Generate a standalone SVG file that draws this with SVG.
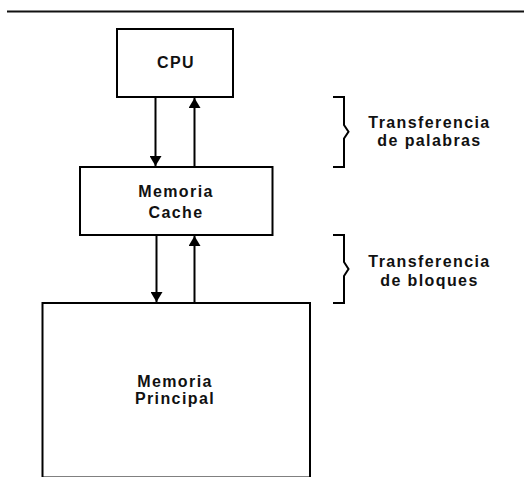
<svg xmlns="http://www.w3.org/2000/svg" width="524" height="477" viewBox="0 0 524 477">
<style>
.box{fill:#fff;stroke:#000;stroke-width:2}
.ln{fill:none;stroke:#000;stroke-width:2}
.t{font-family:"Liberation Sans",Arial,sans-serif;font-weight:bold;font-size:16px;letter-spacing:1.4px;fill:#111;text-anchor:middle}
</style>
<defs>
<marker id="ah" viewBox="0 0 10 12" refX="10" refY="6" markerWidth="10" markerHeight="12" markerUnits="userSpaceOnUse" orient="auto">
<path d="M0,0 L10,6 L0,12 Z" fill="#000"/>
</marker>
</defs>
<line x1="7" y1="11.5" x2="524" y2="11.5" stroke="#111" stroke-width="2"/>
<g id="cpu">
<rect class="box" x="117" y="29" width="116" height="68"/>
<text class="t" x="176" y="67.5">CPU</text>
</g>
<g id="cache">
<rect class="box" x="80" y="167" width="192.5" height="68"/>
<text class="t" x="176" y="197">Memoria</text>
<text class="t" x="176" y="217.5">Cache</text>
</g>
<g id="principal">
<rect class="box" x="42.5" y="303" width="267.5" height="174.5"/>
<text class="t" x="175" y="386.5">Memoria</text>
<text class="t" x="175" y="403.5">Principal</text>
</g>
<g id="connectors">
<line class="ln" x1="155.5" y1="97" x2="155.5" y2="166" marker-end="url(#ah)"/>
<line class="ln" x1="194.5" y1="167" x2="194.5" y2="98" marker-end="url(#ah)"/>
<line class="ln" x1="156.5" y1="235" x2="156.5" y2="302" marker-end="url(#ah)"/>
<line class="ln" x1="194.5" y1="303" x2="194.5" y2="236" marker-end="url(#ah)"/>
</g>
<g id="brace1">
<path class="ln" d="M333,97 H344 V125 L348.5,131.7 L344,138.5 V167 H333"/>
<text class="t" x="429.5" y="127.5">Transferencia</text>
<text class="t" x="429.5" y="145.5">de palabras</text>
</g>
<g id="brace2">
<path class="ln" d="M333,235 H344 V262 L348.5,269 L344,276 V303 H333"/>
<text class="t" x="429.5" y="266.5">Transferencia</text>
<text class="t" x="429.5" y="285.5">de bloques</text>
</g>
</svg>
